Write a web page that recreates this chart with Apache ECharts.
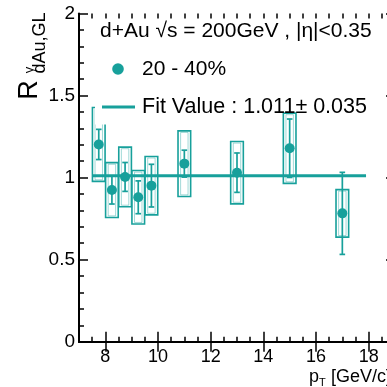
<!DOCTYPE html>
<html>
<head>
<meta charset="utf-8">
<script src="https://cdn.jsdelivr.net/npm/echarts@6/dist/echarts.min.js"></script>
<style>
html,body{margin:0;padding:0;overflow:hidden;background:#fff;}
#c{width:400px;height:387px;}
</style>
</head>
<body>
<div id="c"></div>
<script>
// ---- data ----
const ptValues = [7.75, 8.25, 8.75, 9.25, 9.75, 11, 13, 15, 17];
const rdAuValues = [1.202, 0.924, 1.004, 0.880, 0.951, 1.085, 1.030, 1.179, 0.782];
const statErrors = [0.092, 0.085, 0.088, 0.100, 0.130, 0.082, 0.120, 0.178, 0.250];
const sysErrors = [0.225, 0.167, 0.182, 0.163, 0.178, 0.200, 0.190, 0.214, 0.145];
const fitValue = 1.011;
const fitRange = [7.5, 17.9];
const xTickLabels = [8, 10, 12, 14, 16, 18];
const yTickLabels = [0, 0.5, 1, 1.5, 2];
const seriesName = '20 - 40%';
const fitLabel = 'Fit Value : 1.011± 0.035';
const titleText = 'd+Au √s = 200GeV , |η|<0.35';

const TEAL = '#17a09b';
const FONT = 'Liberation Sans, Arial, Helvetica, sans-serif';
const BOX_HALF = 0.24;

const chart = echarts.init(document.getElementById('c'), null, {renderer: 'canvas'});

const boxData = ptValues.map((x, i) => [x, rdAuValues[i] - sysErrors[i], rdAuValues[i] + sysErrors[i]]);
const statData = ptValues.map((x, i) => [x, rdAuValues[i] - statErrors[i], rdAuValues[i] + statErrors[i]]);
const pointData = ptValues.map((x, i) => [x, rdAuValues[i]]);
const fitData = fitRange.map(x => [x, fitValue]);

const gridBox = {left: 79, right: 5, top: 13.5, bottom: 45.3};
const axisLineStyle = {color: '#000', width: 2};
const tickStyle = {color: '#000', width: 1.5};

const option = {
  animation: false,
  grid: [Object.assign({}, gridBox), Object.assign({}, gridBox)],
  xAxis: [
    { gridIndex: 0, type: 'value', position: 'bottom', min: 7, max: 19, interval: 0.5,
      axisLine: {show: true, lineStyle: axisLineStyle},
      axisTick: {show: true, inside: true, length: 10, lineStyle: tickStyle, customValues: xTickLabels},
      axisLabel: {show: true, customValues: xTickLabels, fontFamily: FONT, fontSize: 18, color: '#000', margin: 6},
      splitLine: {show: false} },
    { gridIndex: 0, type: 'value', position: 'top', min: 7, max: 19, interval: 0.5,
      axisLine: {show: true, lineStyle: axisLineStyle},
      axisTick: {show: true, inside: true, length: 10, lineStyle: tickStyle, customValues: xTickLabels},
      axisLabel: {show: false}, splitLine: {show: false} },
    { gridIndex: 1, type: 'value', position: 'bottom', min: 7, max: 19, interval: 0.5,
      axisLine: {show: false},
      axisTick: {show: true, inside: true, length: 5, lineStyle: tickStyle},
      axisLabel: {show: false}, splitLine: {show: false} },
    { gridIndex: 1, type: 'value', position: 'top', min: 7, max: 19, interval: 0.5,
      axisLine: {show: false},
      axisTick: {show: true, inside: true, length: 5, lineStyle: tickStyle},
      axisLabel: {show: false}, splitLine: {show: false} }
  ],
  yAxis: [
    { gridIndex: 0, type: 'value', position: 'left', min: 0, max: 2, interval: 0.5,
      axisLine: {show: true, lineStyle: axisLineStyle},
      axisTick: {show: true, inside: true, length: 9, lineStyle: tickStyle},
      minorTick: {show: true, splitNumber: 5, length: 5, lineStyle: tickStyle},
      axisLabel: {show: true, fontFamily: FONT, fontSize: 19, color: '#000', margin: 4,
        formatter: v => (yTickLabels.indexOf(v) >= 0 ? String(v) : '')},
      splitLine: {show: false} },
    { gridIndex: 0, type: 'value', position: 'right', min: 0, max: 2, interval: 0.5,
      axisLine: {show: true, lineStyle: axisLineStyle},
      axisTick: {show: true, inside: true, length: 9, lineStyle: tickStyle},
      minorTick: {show: true, splitNumber: 5, length: 5, lineStyle: tickStyle},
      axisLabel: {show: false}, splitLine: {show: false} },
    { gridIndex: 1, type: 'value', min: 0, max: 2, show: false }
  ],
  series: [
    { type: 'custom', name: 'sys', xAxisIndex: 0, yAxisIndex: 0, data: boxData, z: 2,
      renderItem: function (params, api) {
        const x = api.value(0), lo = api.value(1), hi = api.value(2);
        const a = api.coord([x - BOX_HALF, hi]);
        const b = api.coord([x + BOX_HALF, lo]);
        const w = b[0] - a[0], h = b[1] - a[1];
        return { type: 'group', children: [
          { type: 'rect', shape: {x: a[0], y: a[1], width: w, height: h},
            style: {fill: 'none', stroke: TEAL, lineWidth: 1.6} },
          { type: 'rect', shape: {x: a[0] + 2.6, y: a[1] + 1.6, width: w - 5.2, height: h - 3.2},
            style: {fill: 'none', stroke: TEAL, lineWidth: 0.9, opacity: 0.45} }
        ]};
      } },
    { type: 'custom', name: 'stat', xAxisIndex: 0, yAxisIndex: 0, data: statData, z: 3,
      renderItem: function (params, api) {
        const x = api.value(0), lo = api.value(1), hi = api.value(2);
        const t = api.coord([x, hi]);
        const b = api.coord([x, lo]);
        const cw = 2.8;
        const st = {stroke: TEAL, lineWidth: 1.7};
        return { type: 'group', children: [
          { type: 'line', shape: {x1: t[0], y1: t[1], x2: b[0], y2: b[1]}, style: st },
          { type: 'line', shape: {x1: t[0] - cw, y1: t[1], x2: t[0] + cw, y2: t[1]}, style: st },
          { type: 'line', shape: {x1: b[0] - cw, y1: b[1], x2: b[0] + cw, y2: b[1]}, style: st }
        ]};
      } },
    { type: 'line', name: fitLabel, xAxisIndex: 0, yAxisIndex: 0, data: fitData, z: 4,
      showSymbol: false, symbol: 'none', lineStyle: {color: TEAL, width: 3}, silent: true },
    { type: 'scatter', name: seriesName, xAxisIndex: 0, yAxisIndex: 0, data: pointData, z: 5,
      symbol: 'circle', symbolSize: 10, itemStyle: {color: TEAL, opacity: 1} }
  ],
  graphic: [
    // legend area background (hides part of the first box, as in the reference)
    { type: 'rect', z: 50, shape: {x: 95, y: 50, width: 45, height: 74.5}, style: {fill: '#fff'} },
    { type: 'text', z: 60, left: 100, top: 21,
      style: {text: titleText, font: '21px ' + FONT, fill: '#000'} },
    { type: 'circle', z: 60, shape: {cx: 118, cy: 69, r: 5.8}, style: {fill: TEAL} },
    { type: 'text', z: 60, x: 142, y: 69,
      style: {text: seriesName, font: '21px ' + FONT, fill: '#000', verticalAlign: 'middle'} },
    { type: 'line', z: 60, shape: {x1: 102, y1: 107, x2: 135, y2: 107}, style: {stroke: TEAL, lineWidth: 3} },
    { type: 'text', z: 60, x: 142, y: 107,
      style: {text: fitLabel, font: '21.5px ' + FONT, fill: '#000', verticalAlign: 'middle'} },
    // y axis title  R^γ_{dAu,GL}
    { type: 'text', z: 60, x: 30, y: 90, rotation: Math.PI / 2,
      style: {text: 'R', font: '27px ' + FONT, fill: '#000', align: 'center', verticalAlign: 'middle'} },
    { type: 'text', z: 60, x: 40.5, y: 43, rotation: Math.PI / 2,
      style: {text: 'dAu,GL', font: '18px ' + FONT, fill: '#000', align: 'center', verticalAlign: 'middle'} },
    { type: 'text', z: 60, x: 29.5, y: 70, rotation: Math.PI / 2,
      style: {text: 'γ', font: '13px ' + FONT, fill: '#000', align: 'center', verticalAlign: 'middle'} },
    // x axis title  p_T [GeV/c]
    { type: 'text', z: 60, x: 309, y: 377,
      style: {text: 'p', font: '18px ' + FONT, fill: '#000', verticalAlign: 'middle'} },
    { type: 'text', z: 60, x: 319, y: 383,
      style: {text: 'T', font: '11px ' + FONT, fill: '#000', verticalAlign: 'middle'} },
    { type: 'text', z: 60, x: 331, y: 377,
      style: {text: '[GeV/c]', font: '18px ' + FONT, fill: '#000', verticalAlign: 'middle'} }
  ]
};
chart.setOption(option);
</script>
</body>
</html>
